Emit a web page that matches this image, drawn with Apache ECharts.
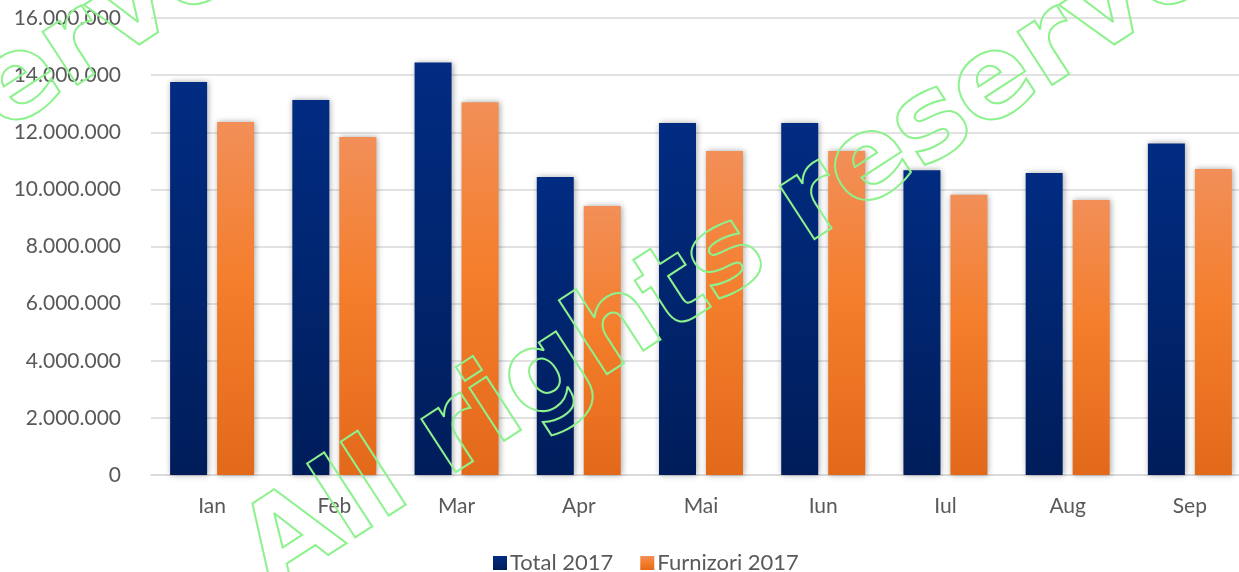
<!DOCTYPE html>
<html>
<head>
<meta charset="utf-8">
<script src="https://cdn.jsdelivr.net/npm/echarts@6/dist/echarts.min.js"></script>
<style>
html,body{margin:0;padding:0;background:#fff;overflow:hidden;width:1239px;height:572px;}
#chart{width:1252px;height:572px;}
</style>
</head>
<body>
<div id="chart"></div>
<script>
var categories = ['Ian', 'Feb', 'Mar', 'Apr', 'Mai', 'Iun', 'Iul', 'Aug', 'Sep'];
var total2017 = [13760000, 13130000, 14440000, 10430000, 12320000, 12320000, 10670000, 10570000, 11610000];
var furnizori2017 = [12360000, 11830000, 13050000, 9420000, 11340000, 11340000, 9810000, 9630000, 10710000];
var seriesNames = ['Total 2017', 'Furnizori 2017'];
var watermarkText = 'All rights reserved';

function fmt(v) {
  return String(Math.round(v)).replace(/\B(?=(\d{3})+(?!\d))/g, '.');
}

var chart = echarts.init(document.getElementById('chart'), null, {renderer: 'canvas'});
var FONT = 'Lato, "Noto Sans", sans-serif';
var blueGrad = new echarts.graphic.LinearGradient(0, 0, 0, 1, [
  {offset: 0, color: '#012C82'},
  {offset: 1, color: '#001D5A'}
]);
var orangeGrad = new echarts.graphic.LinearGradient(0, 0, 0, 1, [
  {offset: 0, color: '#F28F58'},
  {offset: 0.45, color: '#F47E2C'},
  {offset: 1, color: '#E3691A'}
]);
var shadow = {shadowBlur: 6, shadowColor: 'rgba(0,0,0,0.35)', shadowOffsetX: 1, shadowOffsetY: 0};
var rot = 33 * Math.PI / 180;
function wm(x, y) {
  return {
    type: 'text', x: x, y: y, rotation: rot, z: 100, silent: true,
    style: {
      text: watermarkText,
      font: 'bold 116px "DejaVu Sans", Verdana, sans-serif',
      fill: 'none', stroke: '#8DF28D', lineWidth: 2,
      textAlign: 'left', textVerticalAlign: 'bottom', align: 'left', verticalAlign: 'bottom'
    }
  };
}

chart.setOption({
  animation: false,
  backgroundColor: '#ffffff',
  grid: {left: 151, right: 1, top: 18, bottom: 97, containLabel: false},
  legend: {
    data: seriesNames,
    left: 488, top: 547,
    itemWidth: 14, itemHeight: 14, itemGap: 27,
    icon: 'rect',
    textStyle: {fontFamily: FONT, fontSize: 22, color: '#595959', padding: [0, 0, 0, -2]}
  },
  xAxis: {
    type: 'category',
    data: categories,
    axisLine: {lineStyle: {color: '#D9D9D9', width: 1.5}},
    axisTick: {show: false},
    axisLabel: {fontFamily: FONT, fontSize: 21, color: '#595959', margin: 21}
  },
  yAxis: {
    type: 'value',
    min: 0, max: 16000000, interval: 2000000,
    axisLine: {show: false},
    axisTick: {show: false},
    splitLine: {lineStyle: {color: '#D9D9D9', width: 1.5}},
    axisLabel: {fontFamily: FONT, fontSize: 21, color: '#595959', margin: 30, formatter: fmt}
  },
  series: [
    {
      name: seriesNames[0], type: 'bar', data: total2017,
      barWidth: 37, barGap: '27%',
      itemStyle: Object.assign({color: blueGrad}, shadow)
    },
    {
      name: seriesNames[1], type: 'bar', data: furnizori2017,
      barWidth: 37,
      itemStyle: Object.assign({color: orangeGrad}, shadow)
    }
  ],
  graphic: [wm(287, 615), wm(287 - 975, 615)]
});
</script>
</body>
</html>
